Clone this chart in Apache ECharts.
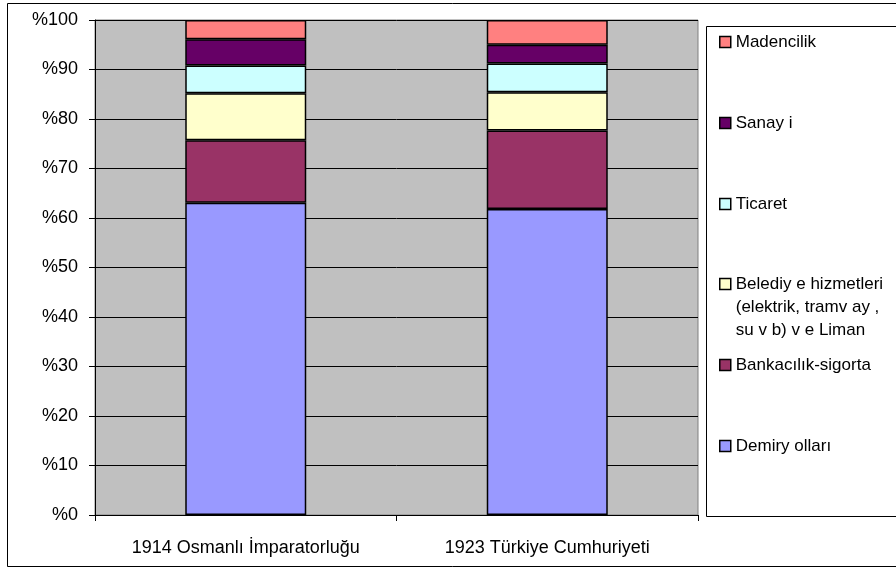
<html>
<head>
<meta charset="utf-8">
<script src="https://cdn.jsdelivr.net/npm/echarts@6/dist/echarts.min.js"></script>
<style>
    * { margin: 0; padding: 0; }
    #main { width: 896px; height: 570px; }
</style>
</head>
<body>
<div id="main"></div>
<script type="text/javascript">
    // kategoriler ve seriler (alttan üste)
    let categories = ['1914 Osmanlı İmparatorluğu', '1923 Türkiye Cumhuriyeti'];
    let seriesNames = ['Demiryolları', 'Bankacılık-sigorta', 'Belediye hizmetleri', 'Ticaret', 'Sanayi', 'Madencilik'];
    let legendLabels = ['Demiry olları', 'Bankacılık-sigorta', 'Belediy e hizmetleri\n(elektrik, tramv ay ,\nsu v b) v e Liman', 'Ticaret', 'Sanay i', 'Madencilik'];
    let demiryollari = [63.1, 61.8];
    let bankacilik = [12.6, 15.9];
    let belediye = [9.5, 7.7];
    let ticaret = [5.6, 5.8];
    let sanayi = [5.3, 3.8];
    let madencilik = [3.9, 5.0];
    let seriesValues = [demiryollari, bankacilik, belediye, ticaret, sanayi, madencilik];
    let colors = ['#9999ff', '#993366', '#ffffcc', '#ccffff', '#660066', '#ff8080'];
    let yTicks = [0, 10, 20, 30, 40, 50, 60, 70, 80, 90, 100];

    let font = "'Liberation Sans', Arial, sans-serif";

    // legend konumları (ikon merkezi y)
    let legendCenters = [446, 365, 284, 204, 123, 42];

    let series = seriesNames.map(function (name, i) {
        return {
            name: name,
            type: 'bar',
            stack: 'total',
            barWidth: 121,
            data: seriesValues[i],
            itemStyle: {color: colors[i], borderColor: '#000', borderWidth: 1.5}
        };
    });

    let legends = seriesNames.map(function (name, i) {
        let multi = legendLabels[i].indexOf('\n') >= 0;
        let lh = multi ? 23 : 20;
        // çok satırlı girişte ilk satır ikonla hizalansın diye başa boş satır ekleniyor
        let text = multi ? '\n\n' + legendLabels[i] : legendLabels[i];
        let lines = text.split('\n').length;
        let h = lines * lh;
        return {
            data: [name],
            orient: 'vertical',
            left: 719,
            top: legendCenters[i] - h / 2,
            padding: 0,
            icon: 'rect',
            itemWidth: 11,
            itemHeight: 11,
            itemStyle: {borderColor: '#000', borderWidth: 1.5},
            selectedMode: false,
            formatter: function () { return text; },
            textStyle: {fontFamily: font, fontSize: 17, color: '#000', lineHeight: lh}
        };
    });

    let myChart = echarts.init(document.getElementById('main'));
    let option = {
        animation: false,
        backgroundColor: '#fff',
        textStyle: {fontFamily: font},
        graphic: [
            {type: 'rect', shape: {x: 7.5, y: 3.5, width: 900, height: 563}, style: {fill: 'none', stroke: '#000', lineWidth: 1}, z: -10},
            {type: 'rect', shape: {x: 706.5, y: 26.5, width: 200, height: 490}, style: {fill: '#fff', stroke: '#000', lineWidth: 1}, z: -5}
        ],
        legend: legends,
        grid: {
            left: 95, top: 20, right: 198, bottom: 55,
            show: true, backgroundColor: '#c0c0c0', borderColor: '#808080', borderWidth: 1
        },
        xAxis: {
            type: 'category',
            data: categories,
            axisLine: {lineStyle: {color: '#000', width: 1}},
            axisTick: {show: true, length: 6, lineStyle: {color: '#000'}},
            axisLabel: {color: '#000', fontSize: 18, fontFamily: font, margin: 24}
        },
        yAxis: {
            type: 'value',
            min: yTicks[0],
            max: yTicks[yTicks.length - 1],
            interval: 10,
            axisLine: {show: true, lineStyle: {color: '#000', width: 1}},
            axisTick: {show: true, length: 6, lineStyle: {color: '#000'}},
            axisLabel: {color: '#000', fontSize: 18, fontFamily: font, margin: 17, formatter: '%{value}'},
            splitLine: {show: true, lineStyle: {color: '#000', width: 1}}
        },
        series: series
    };
    myChart.setOption(option);
</script>
</body>
</html>
